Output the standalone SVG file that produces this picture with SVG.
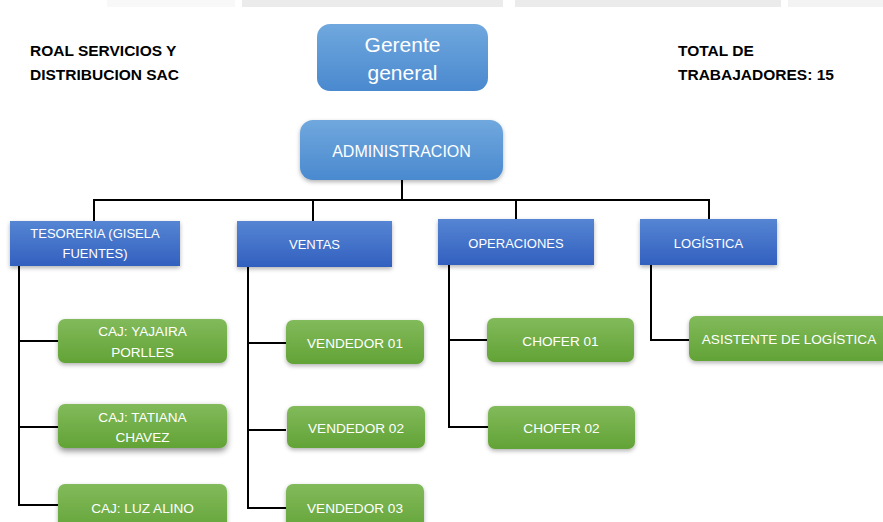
<svg xmlns="http://www.w3.org/2000/svg" width="883" height="522" viewBox="0 0 883 522">
<defs>
<linearGradient id="gTop" x1="0" y1="0" x2="0" y2="1"><stop offset="0" stop-color="#70a8de"/><stop offset="1" stop-color="#4a89cf"/></linearGradient>
<linearGradient id="gDep" x1="0" y1="0" x2="0" y2="1"><stop offset="0" stop-color="#5585d3"/><stop offset="1" stop-color="#3260bf"/></linearGradient>
<linearGradient id="gGrn" x1="0" y1="0" x2="0" y2="1"><stop offset="0" stop-color="#82ba5b"/><stop offset="1" stop-color="#62a336"/></linearGradient>
<filter id="sh" x="-10%" y="-20%" width="120%" height="150%"><feDropShadow dx="0" dy="2" stdDeviation="2" flood-color="#000" flood-opacity="0.3"/></filter>
<filter id="sh2" x="-10%" y="-20%" width="120%" height="150%"><feDropShadow dx="0" dy="3" stdDeviation="3" flood-color="#000" flood-opacity="0.45"/></filter>
</defs>
<style>
.t{font-family:"Liberation Sans",Arial,sans-serif;fill:#fff;text-anchor:middle}
.h{font-family:"Liberation Sans",Arial,sans-serif;fill:#000;font-weight:bold;font-size:15.5px}
.dep{fill:url(#gDep);filter:url(#sh)}
.grn{fill:url(#gGrn);filter:url(#sh)}
.c{fill:none;stroke:#000;stroke-width:2}
.s13{font-size:13px}
.s14{font-size:13.6px}
</style>
<rect width="883" height="522" fill="#fff"/>
<g id="topstrip">
<rect x="107" y="0" width="128" height="7" fill="#f8f8f8"/>
<rect x="242" y="0" width="261" height="7" fill="#ebebeb"/>
<rect x="515" y="0" width="266" height="7" fill="#ebebeb"/>
<rect x="788" y="0" width="95" height="7" fill="#f3f3f3"/>
</g>
<g id="company"><text class="h" x="30" y="56">ROAL SERVICIOS Y</text><text class="h" x="30" y="80">DISTRIBUCION SAC</text></g>
<g id="total"><text class="h" x="678" y="56">TOTAL DE</text><text class="h" x="678" y="80">TRABAJADORES: 15</text></g>
<g id="connectors">
<path class="c" d="M402 180V200M94 221V200H709V219M313 200V221M516 200V219"/>
<path class="c" d="M19 266V505H58M19 341H58M19 427H58"/>
<path class="c" d="M248 267V508H286M248 343H286M248 430H286"/>
<path class="c" d="M449 265V427H488M449 340H487"/>
<path class="c" d="M651 265V340H689"/>
</g>
<g id="gerente"><rect x="317" y="24" width="171" height="67" rx="13" fill="url(#gTop)"/><text class="t" x="402.5" y="52" font-size="21">Gerente</text><text class="t" x="402.5" y="80" font-size="21">general</text></g>
<g id="admin"><rect x="300" y="120" width="203" height="60" rx="13" fill="url(#gTop)" filter="url(#sh)"/><text class="t" x="401.5" y="157" font-size="16">ADMINISTRACION</text></g>
<g id="tesoreria"><rect class="dep" x="10" y="221" width="170" height="45"/><text class="t s13" x="95" y="238">TESORERIA (GISELA</text><text class="t s13" x="95" y="258">FUENTES)</text></g>
<g id="ventas"><rect class="dep" x="237" y="221" width="155" height="46"/><text class="t s13" x="314.5" y="249">VENTAS</text></g>
<g id="operaciones"><rect class="dep" x="438" y="219" width="156" height="46"/><text class="t s13" x="516" y="248">OPERACIONES</text></g>
<g id="logistica"><rect class="dep" x="640" y="219" width="137" height="46"/><text class="t s13" x="708.5" y="248">LOGÍSTICA</text></g>
<g id="caj1"><rect class="grn" x="58" y="319" width="169" height="44" rx="7"/><text class="t s14" x="142.5" y="336">CAJ: YAJAIRA</text><text class="t s14" x="142.5" y="357">PORLLES</text></g>
<g id="caj2"><rect x="58" y="404" width="169" height="44" rx="7" fill="url(#gGrn)" filter="url(#sh2)"/><text class="t s14" x="142.5" y="422">CAJ: TATIANA</text><text class="t s14" x="142.5" y="442">CHAVEZ</text></g>
<g id="caj3"><rect class="grn" x="58" y="484" width="169" height="50" rx="7"/><text class="t s14" x="142.5" y="513">CAJ: LUZ ALINO</text></g>
<g id="vend1"><rect class="grn" x="286" y="320" width="138" height="44" rx="7"/><text class="t s14" x="355" y="348">VENDEDOR 01</text></g>
<g id="vend2"><rect class="grn" x="287" y="406" width="138" height="42" rx="7"/><text class="t s14" x="356" y="433">VENDEDOR 02</text></g>
<g id="vend3"><rect class="grn" x="286" y="484" width="138" height="50" rx="7"/><text class="t s14" x="355" y="513">VENDEDOR 03</text></g>
<g id="chofer1"><rect class="grn" x="487" y="318" width="147" height="44" rx="7"/><text class="t s14" x="560.5" y="346">CHOFER 01</text></g>
<g id="chofer2"><rect class="grn" x="488" y="406" width="147" height="43" rx="7"/><text class="t s14" x="561.5" y="433">CHOFER 02</text></g>
<g id="asistente"><rect class="grn" x="689" y="316" width="200" height="45" rx="7"/><text class="t s14" x="789" y="344">ASISTENTE DE LOGÍSTICA</text></g>
</svg>
